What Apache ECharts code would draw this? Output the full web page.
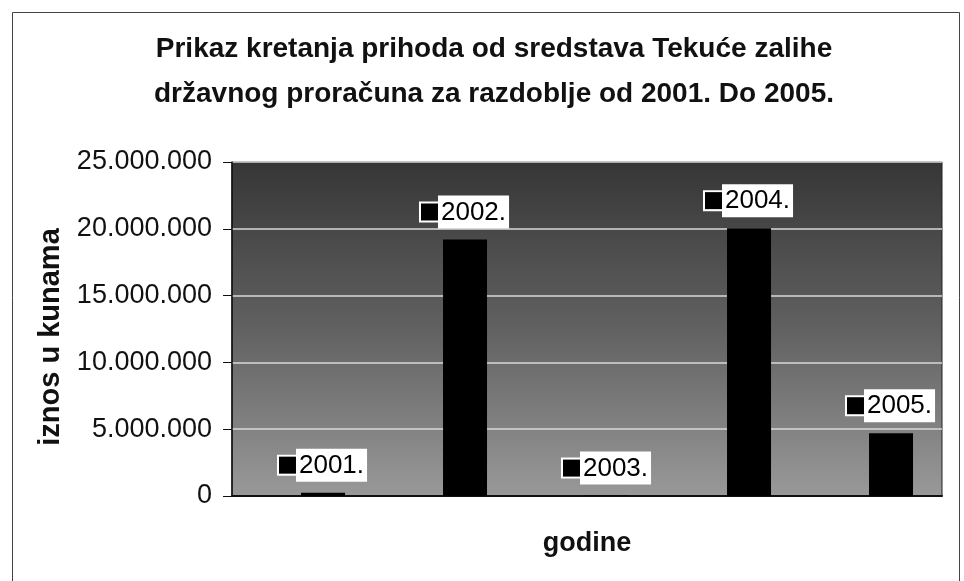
<!DOCTYPE html>
<html>
<head>
<meta charset="utf-8">
<script src="https://cdn.jsdelivr.net/npm/echarts@6/dist/echarts.min.js"></script>
<style>
  html, body { margin: 0; padding: 0; background: #fff; }
  #chart { width: 964px; height: 581px; }
</style>
</head>
<body>
<div id="chart"></div>
<script>
// podaci
const years = ['2001.', '2002.', '2003.', '2004.', '2005.'];
const prihodi = [250000, 19200000, 30000, 20050000, 4700000];
const spacer = [0, 0, 0, 0, 0];
const yTicks = { min: 0, max: 25000000, interval: 5000000 };

const FONT = '"Liberation Sans", Arial, sans-serif';

// 25000000 -> 25.000.000
const formatKn = (v) => String(v).replace(/\B(?=(\d{3})+(?!\d))/g, '.');

const chart = echarts.init(document.getElementById('chart'));

const option = {
  backgroundColor: '#fff',
  animation: false,
  title: {
    text: 'Prikaz kretanja prihoda od sredstava Tekuće zalihe\ndržavnog proračuna za razdoblje od 2001. Do 2005.',
    left: 489,
    top: 22,
    textAlign: 'center',
    textStyle: {
      fontFamily: FONT,
      fontSize: 28,
      fontWeight: 'bold',
      color: '#111',
      lineHeight: 45
    }
  },
  graphic: [
    {
      type: 'rect',
      left: 10,
      top: 10,
      shape: { width: 947, height: 600 },
      style: { fill: 'none', stroke: '#444', lineWidth: 1 },
      silent: true
    }
  ],
  grid: {
    left: 232,
    right: 22,
    top: 162,
    bottom: 85,
    show: true,
    borderColor: '#222',
    borderWidth: 1,
    backgroundColor: {
      type: 'linear',
      x: 0, y: 0, x2: 0, y2: 1,
      colorStops: [
        { offset: 0, color: '#363636' },
        { offset: 0.5, color: '#616161' },
        { offset: 1, color: '#999' }
      ]
    }
  },
  xAxis: {
    type: 'category',
    data: years,
    name: 'godine',
    nameLocation: 'middle',
    nameGap: 34,
    nameTextStyle: {
      fontFamily: FONT,
      fontSize: 27,
      fontWeight: 'bold',
      color: '#111'
    },
    axisLine: { lineStyle: { color: '#111', width: 2 } },
    axisTick: { show: false },
    axisLabel: { show: false }
  },
  yAxis: {
    type: 'value',
    min: yTicks.min,
    max: yTicks.max,
    interval: yTicks.interval,
    name: 'iznos u kunama',
    nameLocation: 'middle',
    nameGap: 164,
    nameTextStyle: {
      fontFamily: FONT,
      fontSize: 29,
      fontWeight: 'bold',
      color: '#111',
      padding: [0, 16, 0, 0]
    },
    axisLine: { show: true, lineStyle: { color: '#111', width: 1.5 } },
    axisTick: { show: true, inside: false, length: 9, lineStyle: { color: '#111' } },
    axisLabel: {
      margin: 20,
      fontFamily: FONT,
      fontSize: 27,
      color: '#111',
      formatter: formatKn
    },
    splitLine: { show: true, lineStyle: { color: '#d8d8d8', width: 1.5 } }
  },
  series: [
    {
      // prazna serija, samo pomiče stupce udesno kao u izvorniku
      type: 'bar',
      data: spacer,
      barWidth: 44,
      itemStyle: { color: 'transparent' },
      silent: true
    },
    {
      type: 'bar',
      data: prihodi,
      barWidth: 44,
      barGap: '-9%',
      itemStyle: { color: '#000' },
      label: {
        show: true,
        position: 'top',
        distance: 11,
        formatter: (p) => '{key|}{txt|' + years[p.dataIndex] + '}',
        rich: {
          key: {
            width: 17,
            height: 17,
            backgroundColor: '#000',
            borderColor: '#fff',
            borderWidth: 2
          },
          txt: {
            fontFamily: FONT,
            fontSize: 26,
            color: '#000',
            backgroundColor: '#fff',
            padding: [4, 3, 3, 3]
          }
        }
      }
    }
  ]
};

chart.setOption(option);
</script>
</body>
</html>
